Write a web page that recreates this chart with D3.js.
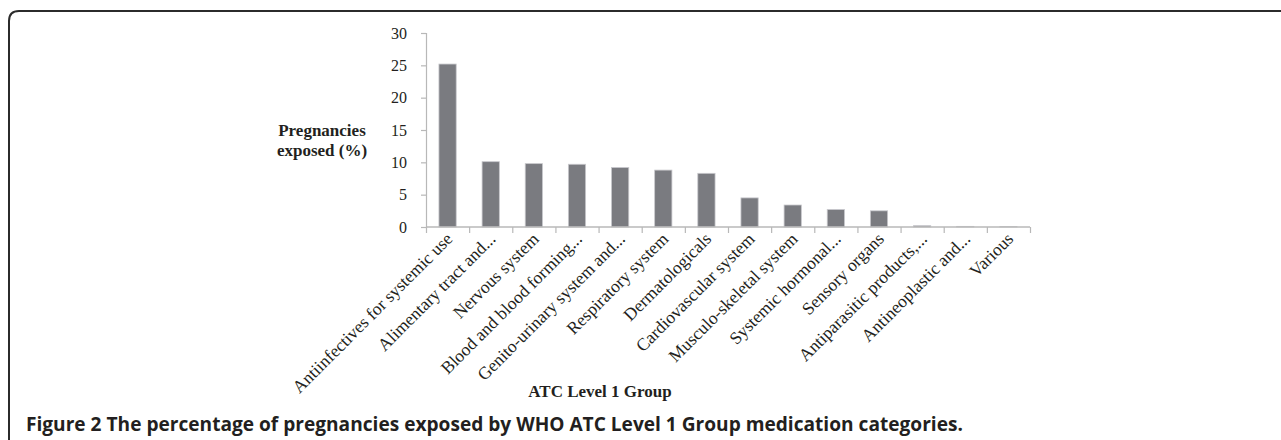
<!DOCTYPE html>
<html>
<head>
<meta charset="utf-8">
<script src="https://cdn.jsdelivr.net/npm/d3@7"></script>
<style>
  html, body { margin: 0; padding: 0; background: #fff; }
  svg { display: block; }
</style>
</head>
<body>
<svg id="fig" width="1281" height="440"></svg>
<script>
// ATC Level 1 groups, ordered by share of exposed pregnancies
const categories = [
  "Antiinfectives for systemic use",
  "Alimentary tract and...",
  "Nervous system",
  "Blood and blood forming...",
  "Genito-urinary system and...",
  "Respiratory system",
  "Dermatologicals",
  "Cardiovascular system",
  "Musculo-skeletal system",
  "Systemic hormonal...",
  "Sensory organs",
  "Antiparasitic products,...",
  "Antineoplastic and...",
  "Various"
];
// Pregnancies exposed (%)
const exposed = [25.2, 10.1, 9.8, 9.7, 9.2, 8.8, 8.3, 4.5, 3.4, 2.7, 2.5, 0.2, 0.1, 0.05];
const yTicks = [0, 5, 10, 15, 20, 25, 30];

const svg = d3.select("#fig");
const serif = "'Liberation Serif', 'DejaVu Serif', serif";
const sans = "'Open Sans', 'Noto Sans', sans-serif";
const textColor = "#231f20";

// rounded figure frame (top and left edges)
svg.append("path")
  .attr("d", "M9,440 L9,21 Q9,11 19,11 L1281,11")
  .attr("fill", "none")
  .attr("stroke", "#2b2b2b")
  .attr("stroke-width", 2);

const plot = { left: 426, right: 1030, top: 33, bottom: 227 };

const x = d3.scaleBand()
  .domain(categories)
  .range([plot.left, plot.right])
  .paddingInner(0.6)
  .paddingOuter(0.3);

const y = d3.scaleLinear()
  .domain([0, 30])
  .range([plot.bottom, plot.top]);

// bars
svg.append("g").selectAll("rect")
  .data(categories)
  .join("rect")
  .attr("x", d => x(d))
  .attr("width", x.bandwidth())
  .attr("y", (d, i) => y(exposed[i]))
  .attr("height", (d, i) => y(0) - y(exposed[i]))
  .attr("fill", "#7a7b80")
  .attr("stroke", "#c8c8cc")
  .attr("stroke-width", 0.8);

// y axis
const yAxis = svg.append("g")
  .attr("transform", `translate(${plot.left},0)`)
  .call(d3.axisLeft(y).tickValues(yTicks).tickSize(5).tickPadding(14).tickFormat(d3.format("d")));
yAxis.select(".domain").attr("stroke", "#b8b8b8").attr("stroke-width", 1.2);
yAxis.selectAll(".tick line").attr("stroke", "#b8b8b8").attr("stroke-width", 1.2);
yAxis.selectAll(".tick text")
  .attr("font-family", serif).attr("font-size", 16).attr("fill", textColor);

// x axis: category dividers as ticks on band boundaries
const bounds = d3.range(categories.length + 1)
  .map(i => plot.left + i * (plot.right - plot.left) / categories.length);
const xb = d3.scaleLinear().domain([plot.left, plot.right]).range([plot.left, plot.right]);
const xAxis = svg.append("g")
  .attr("transform", `translate(0,${plot.bottom})`)
  .call(d3.axisBottom(xb).tickValues(bounds).tickSize(6).tickFormat(""));
xAxis.select(".domain").attr("stroke", "#b8b8b8").attr("stroke-width", 1.5).attr("d", `M${plot.left},0H${plot.right}`);
xAxis.selectAll(".tick line").attr("stroke", "#b8b8b8").attr("stroke-width", 1.2);

// rotated category labels, sized so the longest runs ~218px along the diagonal
const labels = svg.append("g").selectAll("text")
  .data(categories)
  .join("text")
  .attr("text-anchor", "end")
  .attr("font-family", serif)
  .attr("font-size", 16)
  .attr("fill", textColor)
  .text(d => d);
const firstLen = labels.node().getComputedTextLength();
const labelSize = 16 * 218 / firstLen;
labels
  .attr("font-size", labelSize)
  .attr("transform", d => `translate(${x(d) + x.bandwidth() / 2 + 6},${plot.bottom + 13}) rotate(-45)`);

// axis titles
const yTitle = svg.append("text")
  .attr("font-family", serif).attr("font-size", 17).attr("font-weight", "bold")
  .attr("text-anchor", "middle").attr("fill", textColor);
yTitle.append("tspan").attr("x", 322).attr("y", 136).text("Pregnancies");
yTitle.append("tspan").attr("x", 322).attr("y", 156).text("exposed (%)");

svg.append("text")
  .attr("x", 600).attr("y", 397)
  .attr("font-family", serif).attr("font-size", 17).attr("font-weight", "bold")
  .attr("text-anchor", "middle").attr("fill", textColor)
  .text("ATC Level 1 Group");

// figure caption
const cap = svg.append("text")
  .attr("x", 26).attr("y", 431)
  .attr("font-family", sans)
  .attr("font-size", 16).attr("font-weight", "bold").attr("fill", textColor);
cap.append("tspan").text("Figure 2");
cap.append("tspan").text(" The percentage of pregnancies exposed by WHO ATC Level 1 Group medication categories.");
const capLen = cap.node().getComputedTextLength();
cap.attr("font-size", 16 * 937 / capLen);
</script>
</body>
</html>
